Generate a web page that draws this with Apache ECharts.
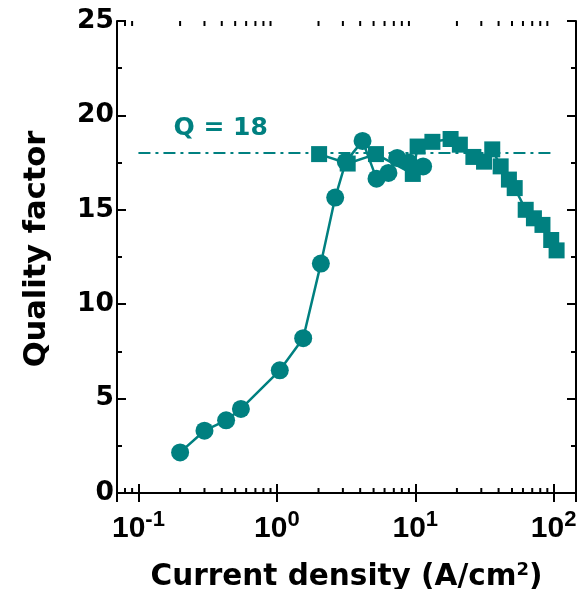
<!DOCTYPE html>
<html>
<head>
<meta charset="utf-8">
<script src="https://cdn.jsdelivr.net/npm/echarts@6/dist/echarts.min.js"></script>
<style>html,body{margin:0;padding:0;background:#fff;}#c{width:586px;height:589px;}</style>
</head>
<body>
<div id="c"></div>
<script>
// Circle series (current density A/cm^2, quality factor)
const circleJ = [0.2, 0.3, 0.43, 0.55, 1.05, 1.55, 2.08, 2.64, 3.15, 4.16, 5.25, 6.4, 7.4, 9.0, 11.4];
const circleQ = [2.15, 3.3, 3.85, 4.45, 6.5, 8.2, 12.15, 15.65, 17.55, 18.65, 16.65, 16.95, 17.75, 17.5, 17.3];
// Square series
const squareJ = [2.02, 3.25, 5.2, 9.6, 10.4, 13.3, 18.0, 21.0, 26.3, 31.4, 36.0, 41.4, 47.5, 52.3, 62.8, 72.0, 83.0, 96.0, 105.0];
const squareQ = [17.95, 17.45, 17.95, 16.9, 18.35, 18.6, 18.75, 18.45, 17.8, 17.55, 18.2, 17.3, 16.6, 16.15, 15.0, 14.55, 14.2, 13.4, 12.85];
// Reference line
const qRef = 18;
const qRefRange = [0.1, 100];
const qRefLabel = 'Q = 18';
// Axes
const xRange = [0.07, 145];
const xTickValues = [0.1, 1, 10, 100];
const xTickExponents = ['-1', '0', '1', '2'];
const xMinorTicks = [0.08, 0.09, 0.2, 0.3, 0.4, 0.5, 0.6, 0.7, 0.8, 0.9, 2, 3, 4, 5, 6, 7, 8, 9, 20, 30, 40, 50, 60, 70, 80, 90];
const yRange = [0, 25];
const yInterval = 5;
const xTitle = 'Current density (A/cm{sup|2})';
const yTitle = 'Quality factor';

const teal = '#008080';
const titleFont = 'DejaVu Sans';
const chart = echarts.init(document.getElementById('c'), null, {renderer: 'canvas'});

function xLabel(v) {
  for (let i = 0; i < xTickValues.length; i++) {
    if (Math.abs(Math.log10(v) - Math.log10(xTickValues[i])) < 1e-6) {
      return '{b|10}{s|' + xTickExponents[i] + '}';
    }
  }
  return '';
}

const tickStyle = {color: '#000', width: 2};
const option = {
  animation: false,
  grid: {left: 117, right: 10, top: 21, bottom: 96, containLabel: false, outerBoundsMode: 'none'},
  xAxis: [{
    type: 'log', logBase: 10, min: xRange[0], max: xRange[1], position: 'bottom',
    axisLine: {lineStyle: {color: '#000', width: 2}},
    axisTick: {inside: true, length: 9, lineStyle: tickStyle},
    splitLine: {show: false},
    axisLabel: {
      margin: 20, formatter: xLabel, color: '#000',
      rich: {
        b: {fontFamily: 'Liberation Sans', fontWeight: 'bold', fontSize: 30, color: '#000', verticalAlign: 'bottom', lineHeight: 31},
        s: {fontFamily: 'Liberation Sans', fontWeight: 'bold', fontSize: 22, color: '#000', verticalAlign: 'bottom', lineHeight: 22, padding: [0, 0, 13, 0]}
      }
    },
    name: xTitle, nameLocation: 'middle', nameGap: 68,
    nameTextStyle: {
      fontFamily: titleFont, fontWeight: 'bold', fontSize: 29.5, color: '#000',
      rich: {sup: {fontFamily: titleFont, fontWeight: 'bold', fontSize: 18, color: '#000', verticalAlign: 'bottom', padding: [0, 0, 14, 0]}}
    }
  }, {
    type: 'log', logBase: 10, min: xRange[0], max: xRange[1], position: 'top',
    axisLine: {lineStyle: {color: '#000', width: 2}},
    axisTick: {inside: true, length: 9, lineStyle: tickStyle},
    axisLabel: {show: false}, splitLine: {show: false}
  }],
  yAxis: [{
    type: 'value', min: yRange[0], max: yRange[1], interval: yInterval, position: 'left',
    axisLine: {show: true, lineStyle: {color: '#000', width: 2}},
    axisTick: {show: true, inside: true, length: 9, lineStyle: tickStyle},
    minorTick: {show: true, splitNumber: 2, length: 5, lineStyle: {color: '#000', width: 2}},
    splitLine: {show: false},
    axisLabel: {margin: 3, color: '#000', fontFamily: titleFont, fontWeight: 'bold', fontSize: 26.5},
    name: yTitle, nameLocation: 'middle', nameGap: 64,
    nameTextStyle: {fontFamily: titleFont, fontWeight: 'bold', fontSize: 30.5, color: '#000', padding: [0, 0, 0, 16]}
  }, {
    type: 'value', min: yRange[0], max: yRange[1], interval: yInterval, position: 'right',
    axisLine: {show: true, lineStyle: {color: '#000', width: 2}},
    axisTick: {show: true, inside: true, length: 9, lineStyle: tickStyle},
    minorTick: {show: true, splitNumber: 2, length: 5, lineStyle: {color: '#000', width: 2}},
    splitLine: {show: false}, axisLabel: {show: false}
  }],
  series: [{
    type: 'custom', xAxisIndex: 0, yAxisIndex: 0, silent: true, clip: false,
    data: xMinorTicks.map(v => [v, 0]),
    renderItem: function (params, api) {
      const v = api.value(0);
      const pb = api.coord([v, yRange[0]]);
      const pt = api.coord([v, yRange[1]]);
      return {type: 'group', children: [
        {type: 'line', shape: {x1: pb[0], y1: pb[1], x2: pb[0], y2: pb[1] - 5}, style: {stroke: '#000', lineWidth: 2}},
        {type: 'line', shape: {x1: pt[0], y1: pt[1], x2: pt[0], y2: pt[1] + 5}, style: {stroke: '#000', lineWidth: 2}}
      ]};
    }
  }, {
    type: 'line', name: 'circles', symbol: 'circle', symbolSize: 18,
    data: circleJ.map((x, i) => [x, circleQ[i]]),
    itemStyle: {color: teal}, lineStyle: {color: teal, width: 2.5}
  }, {
    type: 'line', name: 'squares', symbol: 'rect', symbolSize: 16,
    data: squareJ.map((x, i) => [x, squareQ[i]]),
    itemStyle: {color: teal}, lineStyle: {color: teal, width: 2.5},
    markLine: {
      silent: true, symbol: ['none', 'none'],
      lineStyle: {color: teal, width: 2, type: [12, 5, 3, 5]},
      label: {
        show: true, position: 'insideStartTop', formatter: qRefLabel, distance: [35, 12],
        color: teal, fontFamily: titleFont, fontWeight: 'bold', fontSize: 25
      },
      data: [[{coord: [qRefRange[0], qRef]}, {coord: [qRefRange[1], qRef]}]]
    }
  }]
};
chart.setOption(option);
</script>
</body>
</html>
